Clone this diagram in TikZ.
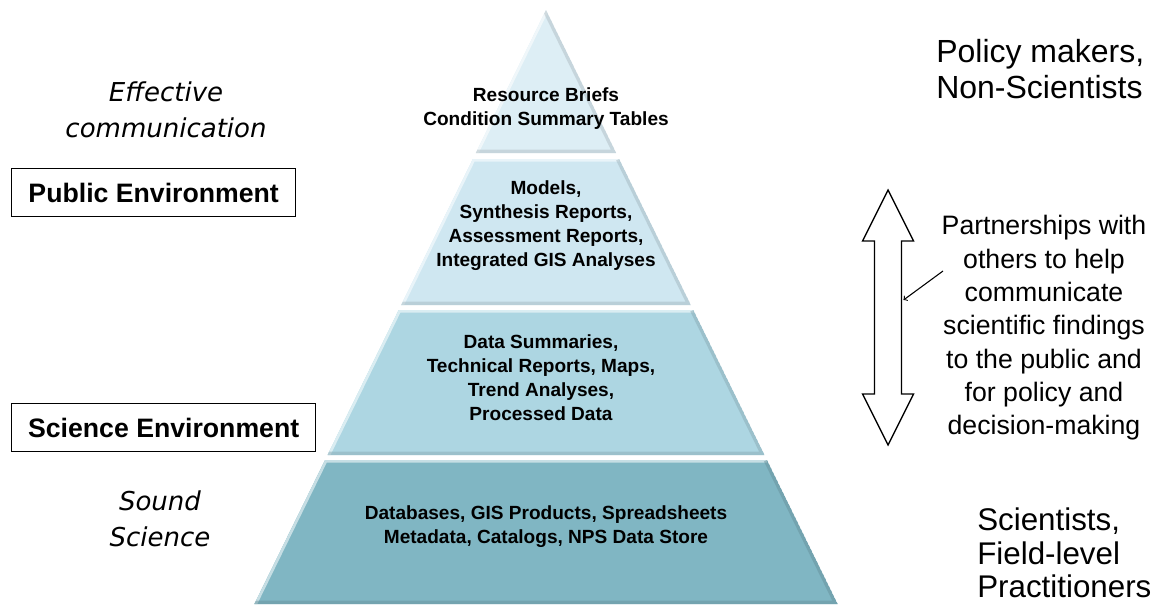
\documentclass[tikz,border=0pt]{standalone}
\usepackage{fontspec}
\setmainfont{Liberation Sans}
\newfontfamily\handfont{DejaVu Sans}
\usetikzlibrary{positioning}

\definecolor{tierA}{HTML}{DDEEF5}
\definecolor{tierB}{HTML}{CFE7F1}
\definecolor{tierC}{HTML}{ADD6E2}
\definecolor{tierD}{HTML}{80B6C3}

\tikzset{
    tiertext/.style={align=center, inner sep=0pt, font=\bfseries\fontsize{14.3}{18}\selectfont},
    envbox/.style={draw, line width=1pt, anchor=north west, inner sep=0pt,
        minimum height=36pt, font=\bfseries\fontsize{20}{24}\selectfont},
    handtext/.style={align=center, inner sep=0pt, font=\handfont\itshape\fontsize{19.5}{27}\selectfont},
    sidetext/.style={align=left, anchor=west, inner sep=0pt, font=\fontsize{24}{27}\selectfont},
}

\begin{document}
\begin{tikzpicture}[x=0.75pt, y=-0.75pt]
        \useasboundingbox (0,0) rectangle (1153,604);

        % pyramid, one trapezoid per tier
        \foreach \yt/\yb/\col in {10/153/tierA, 159/305/tierB, 310/455/tierC, 460/604/tierD} {
            \pgfmathsetmacro\lt{546-0.491*(\yt-10)}
            \pgfmathsetmacro\rt{546+0.491*(\yt-10)}
            \pgfmathsetmacro\lb{546-0.491*(\yb-10)}
            \pgfmathsetmacro\rb{546+0.491*(\yb-10)}
            \begin{scope}
                \clip (\lt,\yt) -- (\rt,\yt) -- (\rb,\yb) -- (\lb,\yb) -- cycle;
                \fill[\col] (\lt,\yt) -- (\rt,\yt) -- (\rb,\yb) -- (\lb,\yb) -- cycle;
                \draw[white!55!\col, line width=4pt] (\lb,\yb) -- (\lt,\yt) -- (\rt,\yt);
                \draw[\col!80!black, line width=5pt, opacity=0.5] (\lb,\yb) -- (\rb,\yb) -- (\rt,\yt);
            \end{scope}
        }

        \node[tiertext] (briefs) at (546,109) {Resource Briefs\\Condition Summary Tables};
        \node[tiertext] (models) at (546,226) {Models,\\Synthesis Reports,\\Assessment Reports,\\Integrated GIS Analyses};
        \node[tiertext] (summaries) at (541,378) {Data Summaries,\\Technical Reports, Maps,\\Trend Analyses,\\Processed Data};
        \node[tiertext] (databases) at (546,527) {Databases, GIS Products, Spreadsheets\\Metadata, Catalogs, NPS Data Store};

        % left side
        \node[handtext] (effcom) at (166,110) {Effective\\communication};
        \node[envbox, minimum width=213pt] (pubenv) at (11,168) {Public Environment};
        \node[envbox, minimum width=228pt] (scienv) at (11,403) {Science Environment};
        \node[handtext] (sound) at (160,519) {Sound\\Science};

        % right side
        \node[sidetext] (policy) at (936,69) {Policy makers,\\Non-Scientists};
        \node[sidetext, font=\fontsize{23.5}{25}\selectfont] (scientists) at (977,553) {Scientists,\\Field-level\\Practitioners};
        \node[align=center, inner sep=0pt, font=\fontsize{20}{25}\selectfont] (partner) at (1044,328)
            {Partnerships with\\others to help\\communicate\\scientific findings\\to the public and\\for policy and\\decision-making};

        \draw[line width=1pt, line join=miter] (888,190) -- (913.5,241) -- (901.5,241) -- (901.5,394) -- (913.5,394)
            -- (888,445) -- (862.5,394) -- (874.5,394) -- (874.5,241) -- (862.5,241) -- cycle;
        \coordinate (ptrstart) at (943,271);
        \coordinate (shaft) at (903.5,300);
        \draw[->, line width=0.8pt] (ptrstart) -- (shaft);

    \end{tikzpicture}
\end{document}
